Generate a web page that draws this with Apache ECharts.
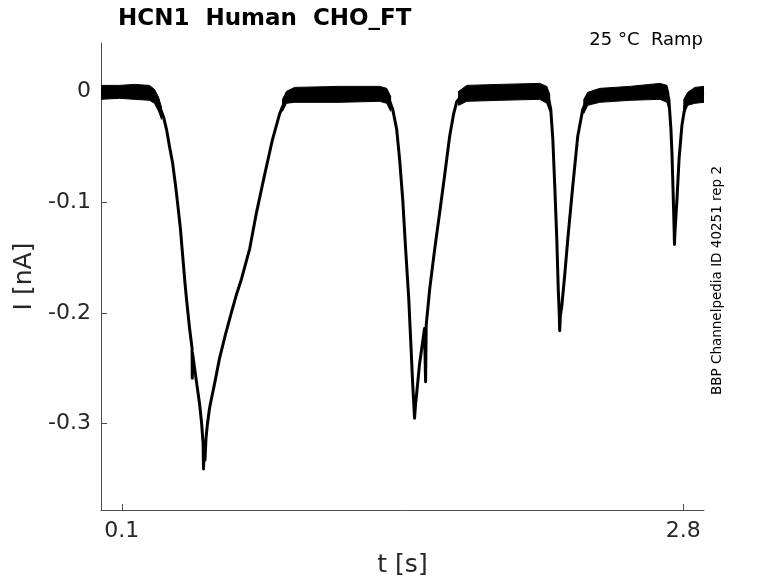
<!DOCTYPE html>
<html>
<head>
<meta charset="utf-8">
<script src="https://cdn.jsdelivr.net/npm/echarts@6/dist/echarts.min.js"></script>
<style>
html,body{margin:0;padding:0;background:#fff;}
#chart{width:778px;height:583px;}
</style>
</head>
<body>
<div id="chart"></div>
<script>
// Mean trace (t in s, I in nA)
var traceT = [0.000,0.089,0.185,0.233,0.257,0.281,0.301,0.315,0.329,0.344,0.358,0.368,0.382,0.402,0.411,0.426,0.438,0.439,0.440,0.459,0.474,0.484,0.491,0.493,0.496,0.500,0.505,0.512,0.522,0.536,0.546,0.570,0.599,0.628,0.652,0.676,0.715,0.748,0.787,0.825,0.859,0.883,0.907,0.955,1.148,1.340,1.379,1.403,1.422,1.436,1.451,1.465,1.480,1.489,1.499,1.506,1.508,1.513,1.518,1.532,1.556,1.561,1.564,1.581,1.605,1.629,1.653,1.677,1.696,1.711,1.740,1.773,1.918,2.110,2.149,2.163,2.173,2.182,2.192,2.199,2.204,2.206,2.209,2.216,2.231,2.245,2.269,2.293,2.317,2.341,2.375,2.495,2.688,2.722,2.731,2.741,2.746,2.751,2.756,2.758,2.760,2.770,2.780,2.794,2.809,2.833,2.857,2.900];
var traceI = [-0.001,0.000,0.000,-0.001,-0.004,-0.013,-0.023,-0.034,-0.049,-0.064,-0.084,-0.100,-0.124,-0.169,-0.187,-0.214,-0.232,-0.259,-0.236,-0.262,-0.282,-0.300,-0.318,-0.341,-0.318,-0.333,-0.313,-0.300,-0.286,-0.273,-0.264,-0.241,-0.219,-0.199,-0.183,-0.169,-0.142,-0.109,-0.075,-0.043,-0.020,-0.009,-0.003,-0.002,-0.002,-0.002,-0.004,-0.016,-0.034,-0.061,-0.097,-0.142,-0.187,-0.223,-0.264,-0.288,-0.295,-0.282,-0.273,-0.246,-0.214,-0.262,-0.211,-0.178,-0.142,-0.109,-0.075,-0.040,-0.020,-0.009,-0.002,-0.001,0.000,0.000,-0.003,-0.016,-0.043,-0.084,-0.133,-0.178,-0.201,-0.216,-0.203,-0.194,-0.164,-0.133,-0.085,-0.040,-0.016,-0.006,-0.002,-0.001,0.000,-0.001,-0.007,-0.034,-0.056,-0.088,-0.122,-0.138,-0.128,-0.097,-0.061,-0.030,-0.013,-0.004,-0.002,-0.001];

// Noise envelope on the flat parts (null separates segments)
var bandT  = [0.000,0.089,0.161,0.233,0.257,0.277,0.291,null,0.873,0.892,0.931,1.148,1.340,1.374,1.393,null,1.720,1.759,1.918,2.110,2.144,2.158,null,2.322,2.341,2.399,2.543,2.688,2.722,2.731,null,2.803,2.822,2.856,2.900];
var bandHi = [0.0057,0.0057,0.0066,0.0057,0.0021,-0.0051,-0.0141,null,-0.0069,0.0003,0.0039,0.0048,0.0048,0.0030,-0.0042,null,0.0003,0.0057,0.0066,0.0075,0.0048,-0.0024,null,-0.0069,-0.0006,0.0030,0.0048,0.0075,0.0057,-0.0015,null,-0.0069,-0.0006,0.0039,0.0048];
var bandLo = [-0.0069,-0.0060,-0.0069,-0.0078,-0.0105,-0.0177,-0.0250,null,-0.0177,-0.0105,-0.0096,-0.0096,-0.0087,-0.0105,-0.0177,null,-0.0123,-0.0087,-0.0078,-0.0069,-0.0105,-0.0177,null,-0.0195,-0.0123,-0.0096,-0.0078,-0.0069,-0.0096,-0.0159,null,-0.0205,-0.0123,-0.0105,-0.0096];

var xTicks = [0.1, 2.8];
var yTicks = [-0.3, -0.2, -0.1, 0];

var series = [];
var seg = 0, cur = null;
function flush() {
  if (!cur || !cur.t.length) return;
  var c = cur;
  series.push({
    type: 'custom', silent: true, animation: false, clip: true,
    data: c.t.map(function (t, i) { return [t, c.hi[i], c.lo[i]]; }),
    encode: { x: 0, y: [1, 2] },
    renderItem: function (params, api) {
      if (params.dataIndex !== 0) return null;
      var pts = [];
      for (var k = 0; k < c.t.length; k++) pts.push(api.coord([c.t[k], c.hi[k]]));
      for (var k2 = c.t.length - 1; k2 >= 0; k2--) pts.push(api.coord([c.t[k2], c.lo[k2]]));
      return { type: 'polygon', shape: { points: pts },
        style: { fill: '#000', stroke: '#000', lineWidth: 1 } };
    }
  });
  seg++;
}
for (var i = 0; i < bandT.length; i++) {
  if (bandT[i] === null) { flush(); cur = null; continue; }
  if (!cur) cur = { t: [], hi: [], lo: [] };
  cur.t.push(bandT[i]); cur.hi.push(bandHi[i]); cur.lo.push(bandLo[i]);
}
flush();

series.push({
  type: 'line', showSymbol: false, silent: true, animation: false,
  lineStyle: { width: 3, color: '#000', join: 'round' },
  data: traceT.map(function (t, i) { return [t, traceI[i]]; })
});

var axisCol = '#4d4d4d', txtCol = '#262626';
var chart = echarts.init(document.getElementById('chart'), null, { renderer: 'canvas' });
chart.setOption({
  animation: false,
  backgroundColor: '#fff',
  title: {
    text: 'HCN1  Human  CHO_FT',
    left: 113, top: 3,
    textStyle: { fontFamily: 'DejaVu Sans', fontWeight: 'bold', fontSize: 23, color: '#000' }
  },
  grid: { left: 101, right: 74, top: 43, bottom: 71, containLabel: false },
  xAxis: {
    type: 'value', min: 0, max: 2.9,
    name: 't [s]', nameLocation: 'middle', nameGap: 43,
    nameTextStyle: { fontFamily: 'DejaVu Sans', fontSize: 25, color: txtCol },
    axisLine: { show: true, onZero: false, lineStyle: { color: axisCol, width: 1 } },
    axisTick: { show: true, inside: true, length: 6, customValues: xTicks, lineStyle: { color: axisCol } },
    axisLabel: { customValues: xTicks, fontFamily: 'DejaVu Sans', fontSize: 22, color: txtCol, margin: 10,
      formatter: function (v) { return String(Math.round(v * 10) / 10); } },
    splitLine: { show: false }
  },
  yAxis: {
    type: 'value', min: -0.378, max: 0.044,
    name: 'I [nA]', nameLocation: 'middle', nameGap: 59, nameRotate: 90,
    nameTextStyle: { fontFamily: 'DejaVu Sans', fontSize: 25, color: txtCol },
    axisLine: { show: true, onZero: false, lineStyle: { color: axisCol, width: 1 } },
    axisTick: { show: true, inside: true, length: 6, customValues: yTicks, lineStyle: { color: axisCol } },
    axisLabel: { customValues: yTicks, fontFamily: 'DejaVu Sans', fontSize: 22, color: txtCol, margin: 10,
      formatter: function (v) { var r = Math.round(v * 10) / 10; return r === 0 ? '0' : String(r); } },
    splitLine: { show: false }
  },
  graphic: [
    { type: 'text', right: 75, top: 31,
      style: { text: '25 °C  Ramp', font: '18px "DejaVu Sans"', fill: '#000' } },
    { type: 'text', x: 710, y: 395, rotation: Math.PI / 2,
      style: { text: 'BBP Channelpedia ID 40251 rep 2', font: '13.5px "DejaVu Sans"', fill: '#000',
        textAlign: 'left', textVerticalAlign: 'top' } }
  ],
  series: series
});
</script>
</body>
</html>
